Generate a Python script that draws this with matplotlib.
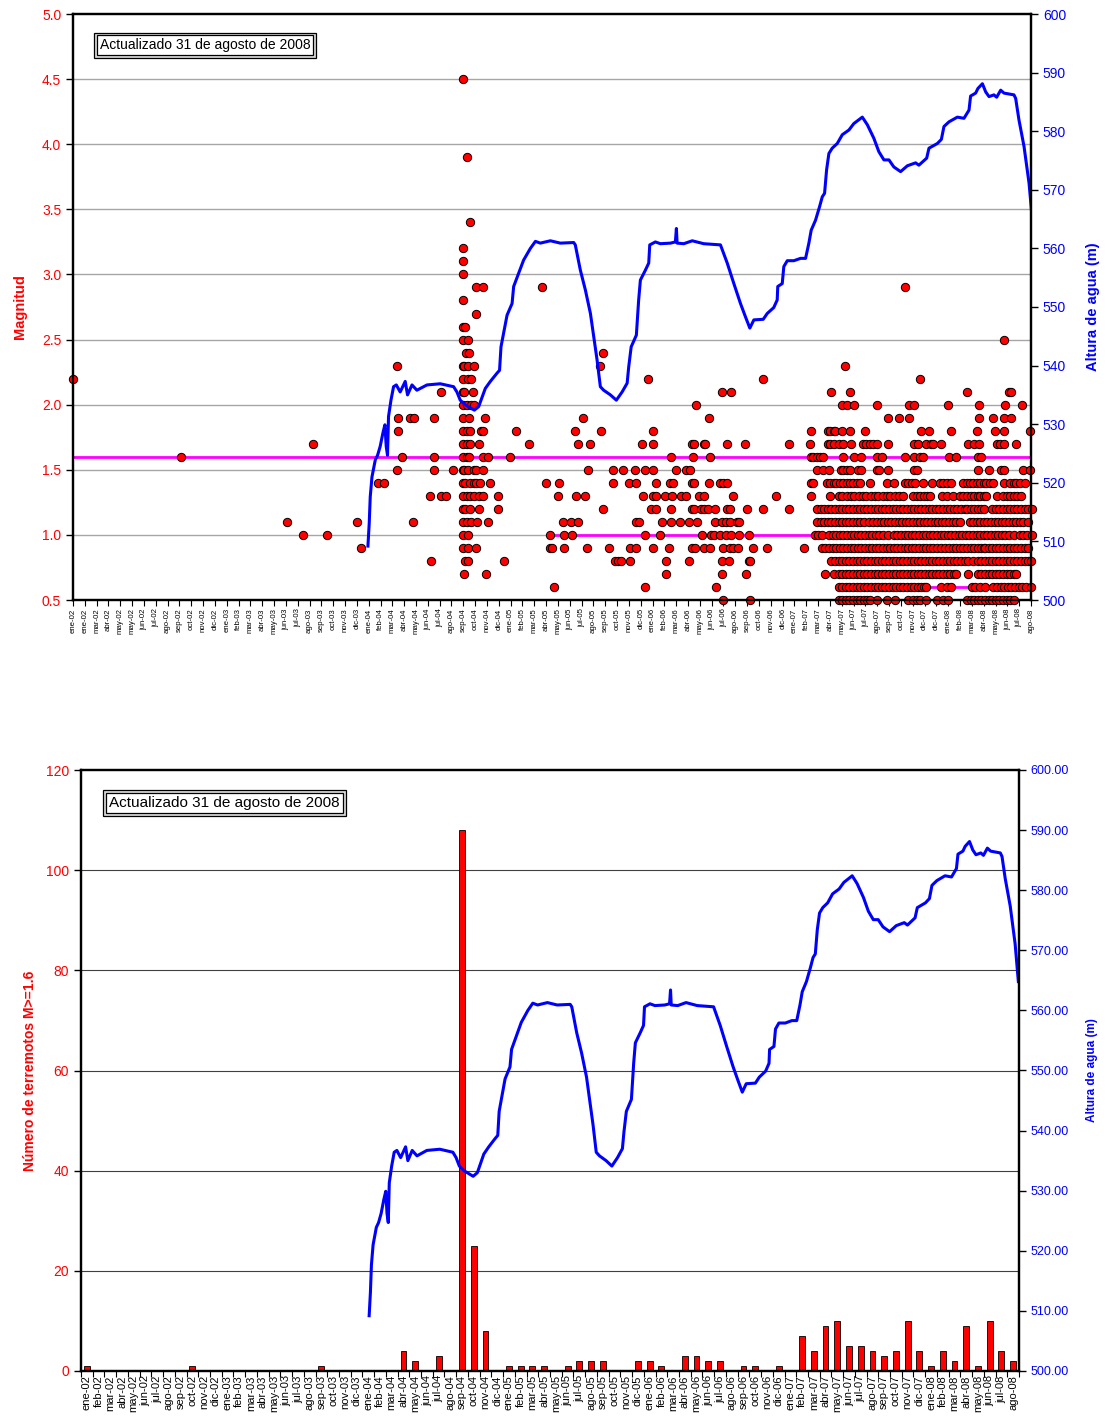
import numpy as np
import matplotlib
matplotlib.use('Agg')
import matplotlib.pyplot as plt
from matplotlib.ticker import FormatStrFormatter

plt.rcParams['font.family'] = ['Liberation Sans', 'DejaVu Sans']

# Etiquetas del eje de fechas (marcas cada 30 días desde el 1 de enero de 2002)
etiquetas_30d = ['ene-02', 'ene-02', 'mar-02', 'abr-02', 'may-02', 'may-02', 'jun-02', 'jul-02',
                 'ago-02', 'sep-02', 'oct-02', 'nov-02', 'dic-02', 'ene-03', 'feb-03', 'mar-03',
                 'abr-03', 'may-03', 'jun-03', 'jul-03', 'ago-03', 'sep-03', 'oct-03', 'nov-03',
                 'dic-03', 'ene-04', 'feb-04', 'mar-04', 'abr-04', 'may-04', 'jun-04', 'jul-04',
                 'ago-04', 'sep-04', 'oct-04', 'nov-04', 'dic-04', 'ene-05', 'feb-05', 'mar-05',
                 'abr-05', 'may-05', 'jun-05', 'jul-05', 'ago-05', 'sep-05', 'oct-05', 'nov-05',
                 'dic-05', 'ene-06', 'feb-06', 'mar-06', 'abr-06', 'may-06', 'jun-06', 'jul-06',
                 'ago-06', 'sep-06', 'oct-06', 'nov-06', 'dic-06', 'ene-07', 'feb-07', 'mar-07',
                 'abr-07', 'may-07', 'jun-07', 'jul-07', 'ago-07', 'sep-07', 'oct-07', 'nov-07',
                 'dic-07', 'dic-07', 'ene-08', 'feb-08', 'mar-08', 'abr-08', 'may-08', 'jun-08',
                 'jul-08', 'ago-08']

meses = ['ene', 'feb', 'mar', 'abr', 'may', 'jun', 'jul', 'ago', 'sep', 'oct', 'nov', 'dic']
anios = ['02', '03', '04', '05', '06', '07', '08']

# Terremotos: tiempo en meses desde ene-02, agrupados por magnitud
m45 = [32.5]
m39 = [32.8]
m34 = [33.1]
m32 = [32.5]
m31 = [32.5]
m30 = [32.5]
m29 = [33.6, 34.2, 39.1, 69.3]
m28 = [32.5]
m27 = [33.6]
m26 = [32.5, 32.7]
m25 = [32.5, 32.9, 77.6]
m24 = [32.75, 33.0, 44.2]
m23 = [27.0, 32.5, 32.6, 32.9, 33.4, 43.9, 64.3]
m22 = [0.0, 32.5, 32.9, 33.2, 47.9, 57.5, 70.6]
m21 = [30.7, 32.5, 32.6, 33.3, 54.1, 54.8, 63.2, 64.75, 74.5, 78.0, 78.2]
m20 = [32.5, 32.8, 33.2, 33.4, 51.9, 64.1, 64.5, 65.1, 67.0, 69.7, 70.1, 72.9, 75.5, 77.7, 79.1]
m19 = [27.1, 28.1, 28.4, 30.1, 32.5, 33.0, 34.3, 42.5, 53.0, 67.9, 68.8, 69.7, 75.5, 76.7,
       77.6, 78.2]
m18 = [27.1, 32.5, 32.8, 33.1, 34.0, 34.2, 36.9, 41.8, 44.0, 48.3, 61.5, 62.9, 63.1, 63.4,
       63.5, 64.1, 64.75, 66.0, 70.7, 71.3, 73.2, 75.3, 76.8, 77.6, 79.75]
m17 = [20.0, 32.5, 32.8, 33.1, 33.8, 38.0, 42.1, 43.1, 47.4, 48.3, 51.6, 51.75, 52.6, 52.7,
       54.5, 56.0, 59.7, 61.4, 62.9, 63.1, 63.4, 63.8, 64.2, 64.8, 65.8, 66.1, 66.4, 66.7,
       67.0, 67.9, 70.1, 70.4, 71.1, 71.5, 71.7, 72.3, 74.6, 75.1, 75.5, 77.0, 77.25, 77.6, 78.6]
m16 = [9.0, 27.4, 30.1, 32.5, 32.8, 33.0, 34.2, 34.6, 36.4, 49.8, 51.7, 53.1, 61.5, 61.7,
       62.0, 62.25, 62.5, 64.2, 65.1, 65.7, 67.0, 67.4, 69.3, 70.1, 70.6, 70.8, 73.0, 73.6,
       75.4, 75.7]
m15 = [27.0, 30.1, 31.7, 32.5, 32.6, 32.9, 33.4, 33.6, 34.2, 42.9, 45.0, 45.8, 46.8, 47.7,
       48.3, 50.25, 51.1, 51.4, 62.0, 62.5, 63.0, 64.0, 64.2, 64.5, 64.75, 65.4, 65.7, 67.0,
       67.2, 67.9, 70.1, 70.3, 75.4, 76.3, 77.3, 77.6, 79.2, 79.75]
m14 = [25.4, 25.9, 32.5, 32.7, 33.1, 33.4, 33.6, 33.9, 34.75, 39.4, 40.5, 45.0, 46.3, 46.9,
       48.6, 49.75, 50.0, 51.6, 51.75, 53.0, 53.9, 54.2, 54.5, 61.5, 61.7, 62.8, 63.1, 63.4,
       63.6, 63.9, 64.2, 64.5, 64.75, 65.0, 65.3, 65.6, 66.4, 67.8, 68.4, 69.3, 69.6, 69.9,
       70.2, 70.8, 71.6, 72.25, 72.5, 72.8, 73.2, 74.2, 74.5, 74.75, 75.0, 75.3, 75.6, 75.9,
       76.1, 76.4, 76.7, 77.6, 78.1, 78.4, 78.6, 78.9, 79.3]
m13 = [29.75, 30.7, 31.1, 32.5, 32.8, 33.1, 33.4, 33.8, 34.2, 35.4, 40.4, 41.9, 42.7, 47.5,
       48.3, 48.6, 49.3, 49.9, 50.7, 51.1, 52.2, 52.6, 55.0, 58.6, 61.5, 63.1, 63.8, 64.1,
       64.5, 64.8, 65.1, 65.5, 65.8, 66.1, 66.5, 66.8, 67.1, 67.5, 67.8, 68.1, 68.5, 68.8,
       69.2, 70.0, 70.3, 70.6, 70.9, 71.2, 71.4, 72.4, 72.8, 73.3, 73.9, 74.2, 74.5, 74.8,
       75.1, 75.4, 75.6, 75.9, 76.1, 77.0, 77.5, 77.8, 78.1, 78.4, 78.7, 79.0]
m12 = [32.5, 32.7, 33.1, 33.8, 35.4, 44.2, 48.2, 48.6, 49.8, 51.6, 51.75, 52.3, 52.6, 52.9,
       53.5, 54.5, 54.75, 56.2, 57.5, 59.7, 62.0, 62.3, 62.6, 62.9, 63.2, 63.5, 63.8, 64.1,
       64.4, 64.7, 65.0, 65.3, 65.6, 65.9, 66.2, 66.5, 66.8, 67.1, 67.4, 67.7, 68.0, 68.3,
       68.6, 68.9, 69.2, 69.5, 69.8, 70.1, 70.4, 70.7, 71.0, 71.3, 71.6, 71.9, 72.2, 72.5,
       72.8, 73.1, 73.4, 73.7, 74.0, 74.3, 74.5, 74.8, 75.1, 75.4, 75.7, 75.9, 76.6, 76.9,
       77.2, 77.5, 77.8, 78.1, 78.4, 78.7, 79.0, 79.3, 79.6, 79.9]
m11 = [17.8, 23.7, 28.3, 32.5, 32.8, 33.2, 33.7, 34.6, 40.8, 41.5, 42.1, 46.9, 47.2, 49.1,
       49.8, 50.6, 51.3, 52.0, 53.5, 54.1, 54.4, 54.75, 55.3, 55.5, 62.0, 62.3, 62.6, 62.9,
       63.2, 63.5, 63.8, 64.1, 64.4, 64.7, 65.0, 65.3, 65.6, 65.9, 66.3, 66.7, 67.0, 67.3,
       67.6, 67.9, 68.2, 68.5, 68.8, 69.1, 69.4, 69.7, 70.0, 70.3, 70.6, 70.9, 71.2, 71.5,
       71.8, 72.1, 72.4, 72.7, 73.0, 73.3, 73.6, 73.9, 74.75, 75.0, 75.3, 75.6, 75.9, 76.2,
       76.5, 76.8, 77.1, 77.4, 77.7, 78.0, 78.3, 78.6, 78.9, 79.2, 79.6]
m10 = [19.2, 21.2, 32.5, 32.9, 39.75, 40.9, 41.6, 47.7, 48.9, 52.4, 53.2, 53.4, 53.9, 54.4,
       54.8, 55.5, 56.3, 61.8, 62.1, 62.4, 63.0, 63.3, 63.6, 63.9, 64.2, 64.5, 64.8, 65.1,
       65.4, 65.7, 66.0, 66.3, 66.6, 66.9, 67.2, 67.5, 67.9, 68.4, 68.7, 69.0, 69.3, 69.6,
       69.9, 70.2, 70.5, 70.8, 71.1, 71.4, 71.7, 72.0, 72.3, 72.6, 72.9, 73.2, 73.5, 73.8,
       74.1, 74.4, 74.7, 75.0, 75.3, 75.6, 75.9, 76.2, 76.5, 76.8, 77.1, 77.4, 77.7, 78.0,
       78.4, 78.9, 79.2, 79.5, 79.9]
m09 = [24.0, 32.5, 32.9, 33.6, 39.75, 39.9, 40.9, 42.8, 44.7, 46.4, 46.9, 48.3, 49.7, 51.6,
       51.8, 52.6, 53.1, 54.2, 54.75, 55.0, 55.4, 56.7, 57.8, 60.9, 62.4, 62.7, 63.0, 63.3,
       63.6, 63.9, 64.2, 64.5, 64.8, 65.1, 65.4, 65.7, 66.0, 66.3, 66.6, 66.9, 67.2, 67.5,
       67.8, 68.1, 68.4, 68.7, 69.0, 69.3, 69.6, 69.9, 70.2, 70.5, 70.8, 71.1, 71.4, 71.7,
       72.0, 72.3, 72.7, 73.0, 73.3, 73.6, 73.9, 74.2, 74.5, 74.8, 75.1, 75.4, 75.7, 75.9,
       76.0, 76.3, 76.6, 76.9, 77.2, 77.5, 77.8, 78.1, 78.4, 78.7, 79.0, 79.3, 79.6]
m08 = [29.8, 32.7, 32.9, 35.9, 45.2, 45.4, 45.7, 46.4, 49.4, 51.3, 54.1, 54.7, 56.3, 56.4,
       63.2, 63.5, 63.8, 64.1, 64.4, 64.7, 65.0, 65.3, 65.6, 65.9, 66.2, 66.5, 66.8, 67.1,
       67.4, 67.7, 68.0, 68.3, 68.6, 68.9, 69.2, 69.5, 69.8, 70.1, 70.4, 70.7, 71.0, 71.3,
       71.6, 71.9, 72.2, 72.5, 72.8, 73.1, 73.4, 73.7, 74.0, 74.3, 74.6, 75.0, 75.4, 75.7,
       76.0, 76.3, 76.6, 76.9, 77.2, 77.5, 77.8, 78.1, 78.4, 78.7, 79.0, 79.3, 79.6, 79.8]
m07 = [32.6, 34.4, 49.4, 54.1, 56.1, 62.7, 63.4, 63.8, 64.1, 64.4, 64.7, 65.0, 65.3, 65.6,
       65.9, 66.2, 66.5, 66.8, 67.1, 67.4, 67.7, 68.0, 68.3, 68.6, 68.9, 69.2, 69.5, 69.8,
       70.1, 70.4, 70.7, 71.0, 71.3, 71.6, 71.9, 72.2, 72.5, 72.8, 73.1, 73.4, 73.6, 74.6,
       75.4, 75.7, 76.0, 76.3, 76.6, 76.9, 77.2, 77.5, 77.8, 78.1, 78.4, 78.6]
m06 = [40.1, 47.7, 53.6, 63.8, 64.1, 64.4, 64.7, 65.0, 65.3, 65.6, 65.9, 66.2, 66.5, 66.8,
       67.1, 67.4, 67.7, 68.0, 68.3, 68.6, 68.9, 69.2, 69.5, 69.8, 70.1, 70.4, 70.7, 70.9,
       71.1, 72.3, 72.8, 73.2, 74.9, 75.2, 75.6, 76.0, 76.7, 77.0, 77.3, 77.6, 77.9, 78.2,
       78.5, 78.8, 79.1, 79.4, 79.8]
m05 = [54.2, 56.4, 63.8, 64.1, 64.4, 64.7, 65.0, 65.3, 65.6, 65.9, 66.2, 66.4, 67.0, 67.8,
       68.5, 69.6, 70.0, 70.3, 70.6, 71.1, 72.0, 72.5, 72.9, 74.5, 74.8, 75.1, 75.4, 75.7,
       76.0, 76.3, 76.6, 76.9, 77.2, 77.5, 77.8, 78.1, 78.4]

filas = [(4.5, m45), (3.9, m39), (3.4, m34), (3.2, m32), (3.1, m31), (3.0, m30), (2.9, m29),
         (2.8, m28), (2.7, m27), (2.6, m26), (2.5, m25), (2.4, m24), (2.3, m23), (2.2, m22),
         (2.1, m21), (2.0, m20), (1.9, m19), (1.8, m18), (1.7, m17), (1.6, m16), (1.5, m15),
         (1.4, m14), (1.3, m13), (1.2, m12), (1.1, m11), (1.0, m10), (0.9, m09), (0.8, m08),
         (0.7, m07), (0.6, m06), (0.5, m05)]

# Líneas de referencia (magenta): inicio en meses, magnitud
ref_inicio = [0.0, 39.75, 70.8]
ref_nivel = [1.6, 1.0, 0.6]

# Altura de agua (m) vs fecha (año decimal)
nivel_anio = [2004.048, 2004.057, 2004.064, 2004.076, 2004.099, 2004.115, 2004.133, 2004.152,
              2004.166, 2004.175, 2004.184, 2004.191, 2004.208, 2004.226, 2004.245, 2004.272,
              2004.307, 2004.323, 2004.354, 2004.388, 2004.458, 2004.550, 2004.643, 2004.666,
              2004.689, 2004.724, 2004.787, 2004.817, 2004.863, 2004.898, 2004.944, 2004.962,
              2004.972, 2004.990, 2005.014, 2005.049, 2005.060, 2005.094, 2005.129, 2005.176,
              2005.211, 2005.245, 2005.315, 2005.384, 2005.477, 2005.488, 2005.523, 2005.558,
              2005.593, 2005.616, 2005.639, 2005.662, 2005.685, 2005.732, 2005.773, 2005.813,
              2005.848, 2005.859, 2005.876, 2005.912, 2005.928, 2005.940, 2005.975, 2005.998,
              2006.005, 2006.044, 2006.079, 2006.149, 2006.183, 2006.190, 2006.195, 2006.241,
              2006.300, 2006.380, 2006.496, 2006.543, 2006.589, 2006.635, 2006.670, 2006.700,
              2006.728, 2006.793, 2006.821, 2006.866, 2006.890, 2006.894, 2006.925, 2006.936,
              2006.960, 2007.006, 2007.052, 2007.087, 2007.110, 2007.126, 2007.156, 2007.184,
              2007.203, 2007.219, 2007.233, 2007.249, 2007.272, 2007.307, 2007.342, 2007.388,
              2007.422, 2007.481, 2007.516, 2007.561, 2007.596, 2007.631, 2007.666, 2007.700,
              2007.747, 2007.794, 2007.851, 2007.874, 2007.928, 2007.944, 2008.002, 2008.030,
              2008.048, 2008.083, 2008.141, 2008.187, 2008.222, 2008.233, 2008.268, 2008.284,
              2008.315, 2008.338, 2008.361, 2008.395, 2008.414, 2008.442, 2008.465, 2008.534,
              2008.546, 2008.569, 2008.604, 2008.639, 2008.662]
nivel_m = [509.2, 513.1, 517.6, 521.0, 523.9, 524.7, 526.2, 528.5, 529.9, 526.2, 524.7, 531.3,
           534.1, 536.4, 536.7, 535.5, 537.3, 535.0, 536.7, 535.8, 536.7, 536.9, 536.4, 535.5,
           534.1, 533.3, 532.4, 533.0, 536.1, 537.3, 538.7, 539.2, 543.2, 545.5, 548.6, 550.6,
           553.5, 555.7, 558.0, 560.0, 561.2, 560.9, 561.3, 560.9, 561.0, 560.6, 556.3, 552.9,
           548.9, 544.9, 541.0, 536.4, 535.8, 535.0, 534.1, 535.5, 537.0, 539.8, 543.2, 545.2,
           551.2, 554.6, 556.3, 557.5, 560.6, 561.1, 560.8, 560.9, 561.1, 563.4, 560.9, 560.8,
           561.3, 560.8, 560.6, 557.5, 554.0, 550.6, 548.3, 546.4, 547.8, 547.9, 548.9, 549.9,
           551.2, 553.5, 554.0, 556.9, 557.9, 557.9, 558.3, 558.3, 560.9, 563.1, 564.8, 567.1,
           568.8, 569.4, 573.4, 576.2, 577.1, 577.9, 579.4, 580.2, 581.3, 582.4, 581.1, 578.8,
           576.5, 575.1, 575.1, 573.9, 573.1, 574.1, 574.6, 574.2, 575.4, 577.1, 577.9, 578.6,
           580.8, 581.6, 582.4, 582.2, 583.6, 586.0, 586.5, 587.3, 588.1, 586.7, 585.9, 586.2,
           585.8, 587.0, 586.5, 586.2, 585.6, 581.9, 577.4, 571.1, 564.8]

# Número mensual de terremotos M>=1.6 (ene-02 ... ago-08)
conteo = [1, 0, 0, 0, 0, 0, 0, 0, 0, 1, 0, 0,
          0, 0, 0, 0, 0, 0, 0, 0, 1, 0, 0, 0,
          0, 0, 0, 4, 2, 0, 3, 0, 108, 25, 8, 0,
          1, 1, 1, 1, 0, 1, 2, 2, 2, 0, 0, 2,
          2, 1, 0, 3, 3, 2, 2, 0, 1, 1, 0, 1,
          0, 7, 4, 9, 10, 5, 5, 4, 3, 4, 10, 4,
          1, 4, 2, 9, 1, 10, 4, 2]

texto = 'Actualizado 31 de agosto de 2008'

W, H = 1106, 1420
fig = plt.figure(figsize=(W / 100, H / 100), dpi=100)

meses_nivel = (np.array(nivel_anio) - 2002) * 12
fin_meses = 2430 / 30.44

# ---------------- Gráfico superior: magnitudes ----------------
ax1 = fig.add_axes([73 / W, 1 - 600 / H, 958 / W, 586 / H])
ax1b = ax1.twinx()

for y in np.arange(1.0, 4.6, 0.5):
    ax1.axhline(y, color='#a6a6a6', lw=1.0, zorder=0)

ax1.hlines(ref_nivel, ref_inicio, fin_meses, colors='#ff00ff', lw=2.0, zorder=2)

for mag, tiempos in filas:
    ax1.scatter(tiempos, [mag] * len(tiempos), s=36, c='#ff0000', edgecolors='black',
                linewidths=0.7, zorder=3, clip_on=False)

ax1.set_xlim(0, fin_meses)
ax1.set_ylim(0.5, 5.0)
ax1.set_yticks(np.arange(0.5, 5.01, 0.5))
ax1.yaxis.set_major_formatter(FormatStrFormatter('%.1f'))
ax1.tick_params(axis='y', colors='#ff0000', labelsize=10, length=5, width=1, labelcolor='#ff0000')
ax1.tick_params(axis='y', color='black')
ax1.set_xticks(np.arange(82) * 30 / 30.44)
ax1.set_xticklabels(etiquetas_30d, rotation=90, fontsize=5.6)
ax1.tick_params(axis='x', length=4, width=0.8, pad=2)
for s in ax1.spines.values():
    s.set_linewidth(1.6)
ax1.set_ylabel('Magnitud', color='#ff0000', fontsize=10.5, fontweight='bold')
ax1.yaxis.set_label_coords(-0.048, 0.5)

ax1b.plot(meses_nivel, nivel_m, color='#0000ff', lw=2.2)
ax1b.set_ylim(500, 600)
ax1b.set_yticks(np.arange(500, 601, 10))
ax1b.tick_params(axis='y', labelcolor='#0000ff', labelsize=10, length=5, width=1)
ax1b.set_ylabel('Altura de agua (m)', color='#0000ff', fontsize=10.5, fontweight='bold')
ax1b.yaxis.set_label_coords(1.057, 0.5)
for s in ax1b.spines.values():
    s.set_linewidth(1.6)

ax1.text(0.138, 0.947, texto, transform=ax1.transAxes, ha='center', va='center', fontsize=10,
         color='none', zorder=5,
         bbox=dict(boxstyle='square,pad=0.4', fc='#d9d9d9', ec='black', lw=0.9))
ax1.text(0.138, 0.947, texto, transform=ax1.transAxes, ha='center', va='center', fontsize=10,
         zorder=6, bbox=dict(boxstyle='square,pad=0.2', fc='white', ec='black', lw=0.9))

# ---------------- Gráfico inferior: número de terremotos ----------------
ax2 = fig.add_axes([81 / W, 1 - 1371 / H, 938 / W, 601 / H])
ax2b = ax2.twinx()

for y in range(20, 101, 20):
    ax2.axhline(y, color='#404040', lw=0.8, zorder=0)

centros = np.arange(len(conteo)) + 0.5
ax2.bar(centros, conteo, width=0.5, color='#ff0000', edgecolor='black', lw=0.6, zorder=2)

ax2.set_xlim(0, len(conteo))
ax2.set_ylim(0, 120)
ax2.set_yticks(range(0, 121, 20))
ax2.tick_params(axis='y', labelcolor='#ff0000', labelsize=10, length=5, width=1)
ax2.set_xticks(np.arange(len(conteo) + 1))
ax2.set_xticklabels([])
ax2.set_xticks(centros, minor=True)
ax2.set_xticklabels([f'{m}-{a}' for a in anios for m in meses][:len(conteo)], minor=True,
                    rotation=90, fontsize=8)
ax2.tick_params(axis='x', which='major', length=4, width=0.8)
ax2.tick_params(axis='x', which='minor', length=0, pad=3)
for s in ax2.spines.values():
    s.set_linewidth(1.6)
ax2.set_ylabel('Número de terremotos M>=1.6', color='#ff0000', fontsize=10, fontweight='bold')
ax2.yaxis.set_label_coords(-0.047, 0.5)

ax2b.plot(meses_nivel, nivel_m, color='#0000ff', lw=2.2)
ax2b.set_ylim(500, 600)
ax2b.set_yticks(np.arange(500, 601, 10))
ax2b.yaxis.set_major_formatter(FormatStrFormatter('%.2f'))
ax2b.tick_params(axis='y', labelcolor='#0000ff', labelsize=9, length=5, width=1)
ax2b.set_ylabel('Altura de agua (m)', color='#0000ff', fontsize=8.5, fontweight='bold')
ax2b.yaxis.set_label_coords(1.071, 0.5)
for s in ax2b.spines.values():
    s.set_linewidth(1.6)

ax2.text(0.153, 0.945, texto, transform=ax2.transAxes, ha='center', va='center', fontsize=11,
         color='none', zorder=5,
         bbox=dict(boxstyle='square,pad=0.4', fc='#d9d9d9', ec='black', lw=0.9))
ax2.text(0.153, 0.945, texto, transform=ax2.transAxes, ha='center', va='center', fontsize=11,
         zorder=6, bbox=dict(boxstyle='square,pad=0.2', fc='white', ec='black', lw=0.9))

fig.savefig('out.png', dpi=100)
